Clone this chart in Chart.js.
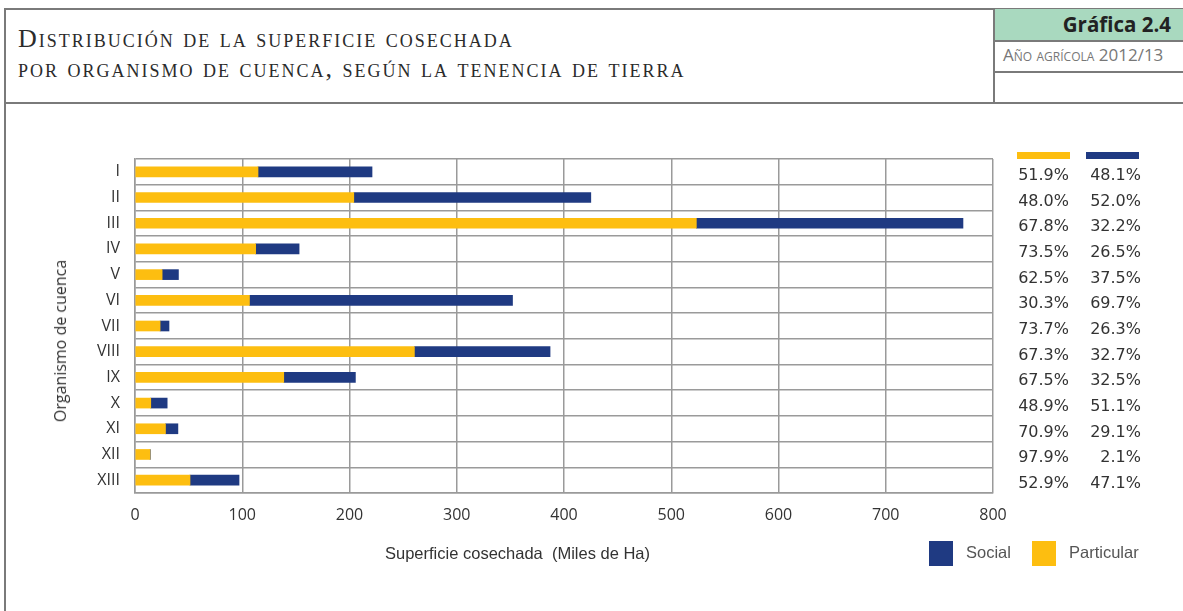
<!DOCTYPE html>
<html>
<head>
<meta charset="utf-8">
<script src="https://cdn.jsdelivr.net/npm/chart.js@4"></script>
<style>
  body { margin: 0; width: 1183px; height: 611px; background: #fff; position: relative; overflow: hidden; font-family: "Open Sans", sans-serif; }
  .ln { position: absolute; background: #7a7a7a; }
  #title { position: absolute; left: 18px; top: 24px; font-family: "Liberation Serif", serif; font-variant: small-caps; font-size: 26px; line-height: 30px; color: #2b2b2b; letter-spacing: 2px; }
  #green { position: absolute; left: 994px; top: 9px; width: 189px; height: 31px; background: #a9d9bf; }
  #num { position: absolute; right: 12px; top: 1px; font-family: "Open Sans", sans-serif; font-weight: bold; font-size: 20.5px; color: #222; }
  #year { position: absolute; left: 1003px; top: 43px; font-family: "Open Sans", sans-serif; font-variant: small-caps; font-size: 17px; color: #777; }
  #wrap { position: absolute; left: 0; top: 150px; width: 1020px; height: 400px; }
  #ytitle { position: absolute; left: 60px; top: 341px; transform: translate(-50%, -50%) rotate(-90deg); font-size: 16px; color: #333; white-space: nowrap; }
  #xtitle { position: absolute; left: 385px; top: 544px; font-family: "Liberation Sans Narrow", "Liberation Sans", sans-serif; font-size: 16.5px; color: #333; white-space: nowrap; }
  .pct { position: absolute; width: 70px; text-align: right; font-family: "DejaVu Sans", sans-serif; font-size: 16px; color: #333; transform: translateY(-50%); }
  .key { position: absolute; height: 7px; }
  .lg { position: absolute; top: 541px; width: 24px; height: 25px; }
  .lgt { position: absolute; top: 543px; font-family: "Liberation Sans Narrow", "Liberation Sans", sans-serif; font-size: 16.5px; color: #555; }
</style>
</head>
<body>
<div class="ln" style="left:4px;top:8px;width:1179px;height:1.5px"></div>
<div class="ln" style="left:4px;top:8px;width:1.5px;height:603px"></div>
<div class="ln" style="left:4px;top:102px;width:1179px;height:1.5px"></div>
<div id="green"><span id="num">Gráfica 2.4</span></div>
<div class="ln" style="left:993px;top:8px;width:1.5px;height:95px"></div>
<div class="ln" style="left:993px;top:40px;width:190px;height:1.5px"></div>
<div class="ln" style="left:993px;top:71px;width:190px;height:1.5px"></div>
<div id="title">Distribución de la superficie cosechada<br>por organismo de cuenca, según la tenencia de tierra</div>
<div id="year">Año agrícola 2012/13</div>

<div id="wrap"><canvas id="c"></canvas></div>
<div id="ytitle">Organismo de cuenca</div>
<div id="xtitle">Superficie cosechada&nbsp; (Miles de Ha)</div>
<div id="extra"></div>

<script>
var organismos = ['I', 'II', 'III', 'IV', 'V', 'VI', 'VII', 'VIII', 'IX', 'X', 'XI', 'XII', 'XIII'];
// miles de hectareas
var particular = [114.7, 204.0, 523.4, 112.5, 25.3, 106.7, 23.4, 260.5, 138.7, 14.7, 28.4, 14.0, 51.3];
var social = [106.3, 221.0, 248.6, 40.5, 15.2, 245.3, 8.3, 126.5, 66.8, 15.3, 11.6, 0.3, 45.7];
var pctParticular = ['51.9%', '48.0%', '67.8%', '73.5%', '62.5%', '30.3%', '73.7%', '67.3%', '67.5%', '48.9%', '70.9%', '97.9%', '52.9%'];
var pctSocial = ['48.1%', '52.0%', '32.2%', '26.5%', '37.5%', '69.7%', '26.3%', '32.7%', '32.5%', '51.1%', '29.1%', '2.1%', '47.1%'];
var xTicks = [0, 100, 200, 300, 400, 500, 600, 700, 800];

var colorParticular = '#fdbe10';
var colorSocial = '#1f3a82';
var tickFont = { family: '"Open Sans", sans-serif', size: 16 };
var gridColor = '#9a9a9a';

var canvasTop = 150;

// percentage columns placed on the y scale once the chart has been laid out
var pctPlugin = {
    id: 'pct',
    afterRender: function (chart) {
        if (chart._pctDone) return;
        chart._pctDone = true;
        var box = document.getElementById('extra');
        var html = '';
        html += '<div class="key" style="left:1017px;top:152px;width:53px;background:' + colorParticular + '"></div>';
        html += '<div class="key" style="left:1086px;top:152px;width:53px;background:' + colorSocial + '"></div>';
        for (var i = 0; i < organismos.length; i++) {
            var y = chart.scales.y.getPixelForValue(i) + canvasTop + 2;
            html += '<div class="pct" style="left:999px;top:' + y + 'px">' + pctParticular[i] + '</div>';
            html += '<div class="pct" style="left:1071px;top:' + y + 'px">' + pctSocial[i] + '</div>';
        }
        html += '<div class="lg" style="left:929px;background:' + colorSocial + '"></div>';
        html += '<div class="lgt" style="left:966px">Social</div>';
        html += '<div class="lg" style="left:1032px;background:' + colorParticular + '"></div>';
        html += '<div class="lgt" style="left:1069px">Particular</div>';
        box.innerHTML = html;
    }
};

new Chart(document.getElementById('c'), {
    type: 'bar',
    data: {
        labels: organismos,
        datasets: [
            { label: 'Particular', data: particular, backgroundColor: colorParticular, barThickness: 10 },
            { label: 'Social', data: social, backgroundColor: colorSocial, barThickness: 10 }
        ]
    },
    options: {
        indexAxis: 'y',
        responsive: true,
        maintainAspectRatio: false,
        animation: false,
        layout: { padding: { top: 9, right: 27, left: 0, bottom: 0 } },
        plugins: { legend: { display: false }, tooltip: { enabled: false } },
        scales: {
            x: {
                stacked: true,
                min: 0,
                max: 800,
                afterBuildTicks: function (scale) {
                    scale.ticks = xTicks.map(function (v) { return { value: v }; });
                },
                afterFit: function (scale) {
                    scale.height = 57;
                    scale.paddingLeft = 0;
                    scale.paddingRight = 0;
                },
                grid: { color: gridColor, lineWidth: 1.5, drawTicks: false },
                border: { color: gridColor, width: 1.5 },
                ticks: { font: tickFont, color: '#333', padding: 13, maxRotation: 0 }
            },
            y: {
                stacked: true,
                afterFit: function (scale) {
                    scale.width = 135;
                    scale.paddingTop = 0;
                    scale.paddingBottom = 0;
                },
                grid: { color: gridColor, lineWidth: 1.5, drawTicks: false },
                border: { color: gridColor, width: 1.5 },
                ticks: { font: tickFont, color: '#333', padding: 15 }
            }
        }
    },
    plugins: [pctPlugin]
});
</script>
</body>
</html>
